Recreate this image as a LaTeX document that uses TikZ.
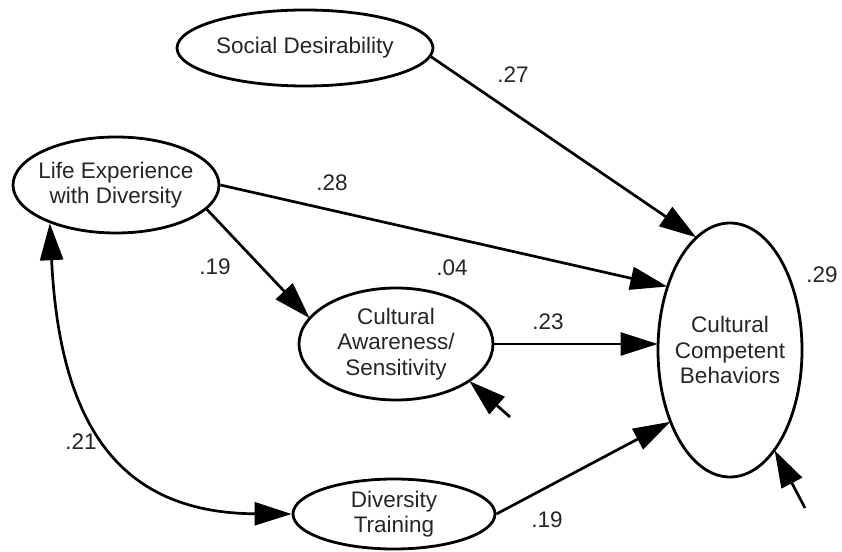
\documentclass[tikz,border=0pt]{standalone}
\usepackage{fontspec}
\setmainfont{Liberation Sans}
\usetikzlibrary{shapes.geometric,arrows.meta}
\begin{document}
\begin{tikzpicture}[x=1pt,y=1pt,
  ell/.style={draw=black, line width=2.8pt, ellipse, inner sep=0pt, fill=white},
  txt/.style={font=\fontsize{22.5}{25.5}\selectfont, align=center, text=black!85},
  num/.style={font=\fontsize{22.5}{26}\selectfont, text=black!85, inner sep=0pt},
  arr/.style={line width=2.7pt, -{Triangle[length=37pt,width=23pt]}, shorten >=-1pt},
  biarr/.style={line width=2.7pt, {Triangle[length=37pt,width=23pt]}-{Triangle[length=37pt,width=23pt]}}
]
\useasboundingbox (0,0) rectangle (842,551);
\fill[white] (0,0) rectangle (842,551);

\node[ell, minimum width=256pt, minimum height=76pt,
  label={[txt]center:Social Desirability}] (social) at (305,503) {};
\node[ell, minimum width=206pt, minimum height=96pt,
  label={[txt]center:Life Experience\\with Diversity}] (life) at (116,366) {};
\node[ell, minimum width=194pt, minimum height=112pt,
  label={[txt]center:Cultural\\Awareness/\\Sensitivity}] (ca) at (396,207) {};
\node[ell, minimum width=144pt, minimum height=254pt,
  label={[txt]center:Cultural\\Competent\\Behaviors}] (ccb) at (730,201) {};
\node[ell, minimum width=202pt, minimum height=70pt,
  label={[txt]center:Diversity\\Training}] (dt) at (394,37) {};

\coordinate (caerr) at (510,134);
\coordinate (ccberr) at (805,43);
\coordinate (cv1) at (60,118);
\coordinate (cv2) at (125,38);

\draw[arr] (social.-4.5) -- (ccb.107);
\draw[arr] (life.east) -- (ccb.135);
\draw[arr] (life.-15) -- (ca.163);
\draw[arr] (ca.east) -- (ca.east -| ccb.west);
\draw[arr] (dt.east) -- (ccb.230);
\draw[biarr] (life.210) .. controls (cv1) and (cv2) .. (dt.west);
\draw[arr] (caerr) -- (ca.-27);
\draw[arr] (ccberr) -- (ccb.-66);

\node[num] (l27) at (513,476) {.27};
\node[num] (l28) at (332,368) {.28};
\node[num] (l19a) at (215,284) {.19};
\node[num] (l04) at (452,283) {.04};
\node[num] (l23) at (548,229) {.23};
\node[num] (l29) at (822,276) {.29};
\node[num] (l21) at (81,109) {.21};
\node[num] (l19b) at (547,31) {.19};
\end{tikzpicture}
\end{document}
